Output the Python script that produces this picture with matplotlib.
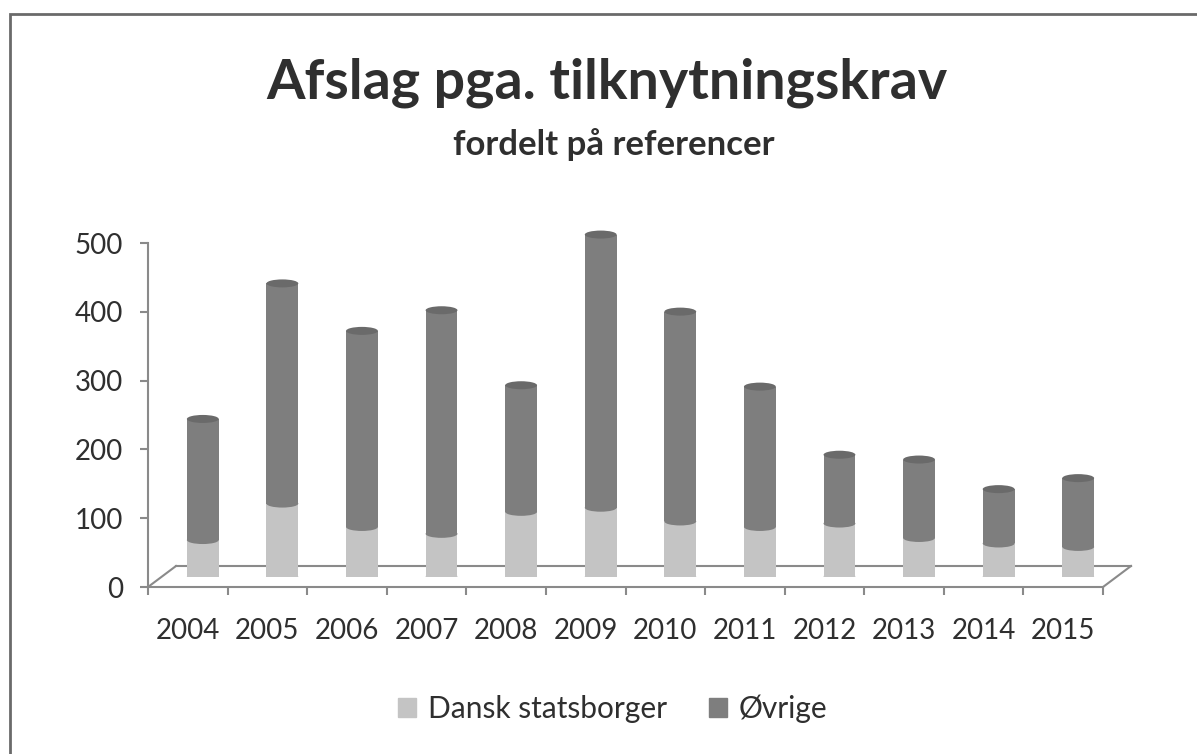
import matplotlib
matplotlib.use("Agg")
import matplotlib.pyplot as plt
from matplotlib.patches import Ellipse, Patch, Rectangle
from matplotlib.transforms import offset_copy
import numpy as np

plt.rcParams['font.family'] = ['Lato', 'DejaVu Sans']

# data
years = ['2004', '2005', '2006', '2007', '2008', '2009',
         '2010', '2011', '2012', '2013', '2014', '2015']
dansk = [53, 106, 72, 62, 94, 100, 80, 72, 77, 56, 48, 43]
ovrige = [176, 320, 285, 325, 184, 397, 305, 204, 100, 114, 79, 100]
series_names = ['Dansk statsborger', 'Øvrige']

light = '#c4c4c4'
dark = '#7e7e7e'
cap = '#6a6a6a'
axis_col = '#8a8a8a'
txt = '#2f2f2f'

W, H = 1197, 754
fig = plt.figure(figsize=(W / 100, H / 100), dpi=100)

# outer frame (right and bottom edges fall outside the picture)
fig.patches.append(Rectangle((10 / W, -0.05), 1.2, (H - 14) / H + 0.05,
                             transform=fig.transFigure, fill=False,
                             edgecolor='#6a6a6a', lw=2))

fig.text(607 / W, (H - 99) / H, 'Afslag pga. tilknytningskrav', ha='center',
         va='baseline', fontsize=40, fontweight='bold', color=txt)
fig.text(614 / W, (H - 155) / H, 'fordelt på referencer', ha='center',
         va='baseline', fontsize=25, fontweight='bold', color=txt)

# front axis (value labels, category labels, floor)
x0, x1 = 148, 1103
y0, y1 = 587, 243
ax_f = fig.add_axes([x0 / W, (H - y0) / H, (x1 - x0) / W, (y0 - y1) / H])
ax_f.set_xlim(-0.5, len(years) - 0.5)
ax_f.set_ylim(0, 500)
ax_f.patch.set_visible(False)
for s in ['top', 'right']:
    ax_f.spines[s].set_visible(False)
for s in ['left', 'bottom']:
    ax_f.spines[s].set_color(axis_col)
    ax_f.spines[s].set_linewidth(1.5)
ax_f.set_yticks(np.arange(0, 501, 100))
ax_f.tick_params(axis='y', direction='out', length=6, width=1.5,
                 color=axis_col, labelsize=20, labelcolor=txt, pad=12)
x = np.arange(len(years))
ax_f.set_xticks(x)
ax_f.set_xticklabels(years)
ax_f.set_xticks(np.arange(len(years) + 1) - 0.5, minor=True)
ax_f.tick_params(axis='x', which='major', length=0, labelsize=20,
                 labelcolor=txt, pad=22)
ax_f.tick_params(axis='x', which='minor', direction='out', length=6,
                 width=1.5, color=axis_col)

# floor of the 3d plot
back = offset_copy(ax_f.transData, fig=fig, x=28, y=21, units='dots')
xl, xr = -0.5, len(years) - 0.5
ax_f.plot([xl, xr], [0, 0], color=axis_col, lw=1.5, transform=back, clip_on=False)
for xe in (xl, xr):
    p_front = ax_f.transData.transform((xe, 0))
    p_back = back.transform((xe, 0))
    ax_f.plot([p_front[0], p_back[0]], [p_front[1], p_back[1]], color=axis_col,
              lw=1.5, transform=None, clip_on=False)

# bars sit half way into the floor
dx, dy = 15, 10.5
ax_b = fig.add_axes([(x0 + dx) / W, (H - y0 + dy) / H, (x1 - x0) / W, (y0 - y1) / H])
ax_b.set_xlim(-0.5, len(years) - 0.5)
ax_b.set_ylim(0, 500)
ax_b.axis('off')

bw = 0.40
eh = 8 / ((y0 - y1) / 500)   # ellipse height in data units (8 px)
tot = np.array(dansk) + np.array(ovrige)
ax_b.bar(x, dansk, width=bw, color=light, linewidth=0)
for xi in x:
    ax_b.add_patch(Ellipse((xi, 0), bw, eh, color=light, lw=0))
ax_b.bar(x, ovrige, bottom=dansk, width=bw, color=dark, linewidth=0)
for xi, d, t in zip(x, dansk, tot):
    ax_b.add_patch(Ellipse((xi, d), bw, eh, color=dark, lw=0))
    ax_b.add_patch(Ellipse((xi, t), bw, eh, color=cap, lw=0, clip_on=False))

handles = [Patch(color=light), Patch(color=dark)]
fig.legend(handles, series_names, loc='center', bbox_to_anchor=(613 / W, (H - 709) / H),
           ncol=2, frameon=False, fontsize=21.5, handlelength=0.6, handleheight=0.6,
           handletextpad=0.4, columnspacing=1.4, labelcolor=txt)

fig.savefig('out.png', dpi=100)
